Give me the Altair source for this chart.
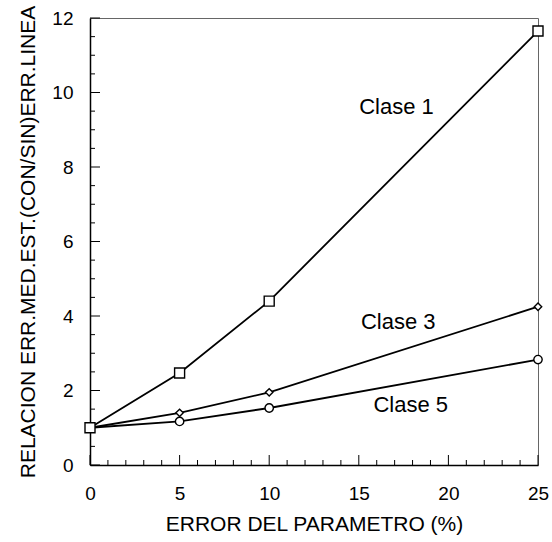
import altair as alt
import pandas as pd

# Measured ratio of standard errors vs. parameter error, three classes
error_pct = [0, 5, 10, 25]
clase_1 = [1.0, 2.47, 4.4, 11.65]
clase_3 = [1.0, 1.4, 1.95, 4.25]
clase_5 = [1.0, 1.17, 1.53, 2.83]
series_names = ["Clase 1", "Clase 3", "Clase 5"]
series_shapes = ["square", "diamond", "circle"]
series_sizes = [100, 55, 70]

# Where each class name is written (data coordinates)
label_x = [17.1, 17.2, 17.9]
label_y = [9.6, 3.85, 1.6]

x_major = [0, 5, 10, 15, 20, 25]
x_minor = [v for v in range(26) if v % 5]
y_major = [0, 2, 4, 6, 8, 10, 12]
y_minor = [i * 0.5 for i in range(25) if i % 4]

W, H = 448, 447
FONT = "Liberation Sans"

rows = []
for name, vals, shape, size in zip(series_names, [clase_1, clase_3, clase_5],
                                   series_shapes, series_sizes):
    for x, y in zip(error_pct, vals):
        rows.append({"serie": name, "x": x, "y": y, "shape": shape, "size": size})
df = pd.DataFrame(rows)

xs = alt.Scale(domain=[0, 25], nice=False, zero=False)
ys = alt.Scale(domain=[0, 12], nice=False, zero=False)

x_axis = alt.Axis(values=x_major, ticks=False, grid=False, domainColor="black",
                  domainWidth=1.5, labelFont=FONT, labelFontSize=19, labelFlush=False,
                  labelColor="black", labelPadding=19, title="ERROR DEL PARAMETRO (%)",
                  titleFont=FONT, titleFontSize=21, titleFontWeight="normal",
                  titleColor="black", titlePadding=10)
y_axis = alt.Axis(values=y_major, ticks=False, grid=False, domainColor="black",
                  domainWidth=1.5, labelFont=FONT, labelFontSize=19, labelFlush=False,
                  labelColor="black", labelPadding=17,
                  title="RELACION ERR.MED.EST.(CON/SIN)ERR.LINEA",
                  titleFont=FONT, titleFontSize=21, titleFontWeight="normal",
                  titleColor="black", titlePadding=13)

base = alt.Chart(df)

lines = base.mark_line(color="black", strokeWidth=1.8).encode(
    x=alt.X("x:Q", scale=xs, axis=x_axis),
    y=alt.Y("y:Q", scale=ys, axis=y_axis),
    detail="serie:N",
)

points = base.mark_point(filled=True, fill="white", stroke="black",
                         strokeWidth=1.4, opacity=1).encode(
    x=alt.X("x:Q", scale=xs),
    y=alt.Y("y:Q", scale=ys),
    shape=alt.Shape("shape:N", scale=None),
    size=alt.Size("size:Q", scale=None),
    order=alt.Order("size:Q"),
)

labels = alt.Chart(pd.DataFrame({"t": series_names, "x": label_x, "y": label_y})).mark_text(
    font=FONT, fontSize=22, color="black", align="center", baseline="middle"
).encode(x=alt.X("x:Q", scale=xs), y=alt.Y("y:Q", scale=ys), text="t:N")

def xticks(vals, length):
    return alt.Chart(pd.DataFrame({"x": vals})).mark_rule(color="black", strokeWidth=1).encode(
        x=alt.X("x:Q", scale=xs), y=alt.value(H), y2=alt.value(H - length))

def yticks(vals, length):
    return alt.Chart(pd.DataFrame({"y": vals})).mark_rule(color="black", strokeWidth=1).encode(
        y=alt.Y("y:Q", scale=ys), x=alt.value(0), x2=alt.value(length))

chart = alt.layer(
    xticks(x_major, 10), xticks(x_minor, 5), yticks(y_major, 10), yticks(y_minor, 5),
    lines, points, labels
).properties(
    width=W, height=H,
    autosize=alt.AutoSizeParams(type="none"),
    padding={"left": 90, "top": 18, "right": 14, "bottom": 77},
    background="white",
).configure_view(stroke="#666666", strokeWidth=1)

chart.save("out.html", embed_options={"renderer": "svg", "actions": False})
